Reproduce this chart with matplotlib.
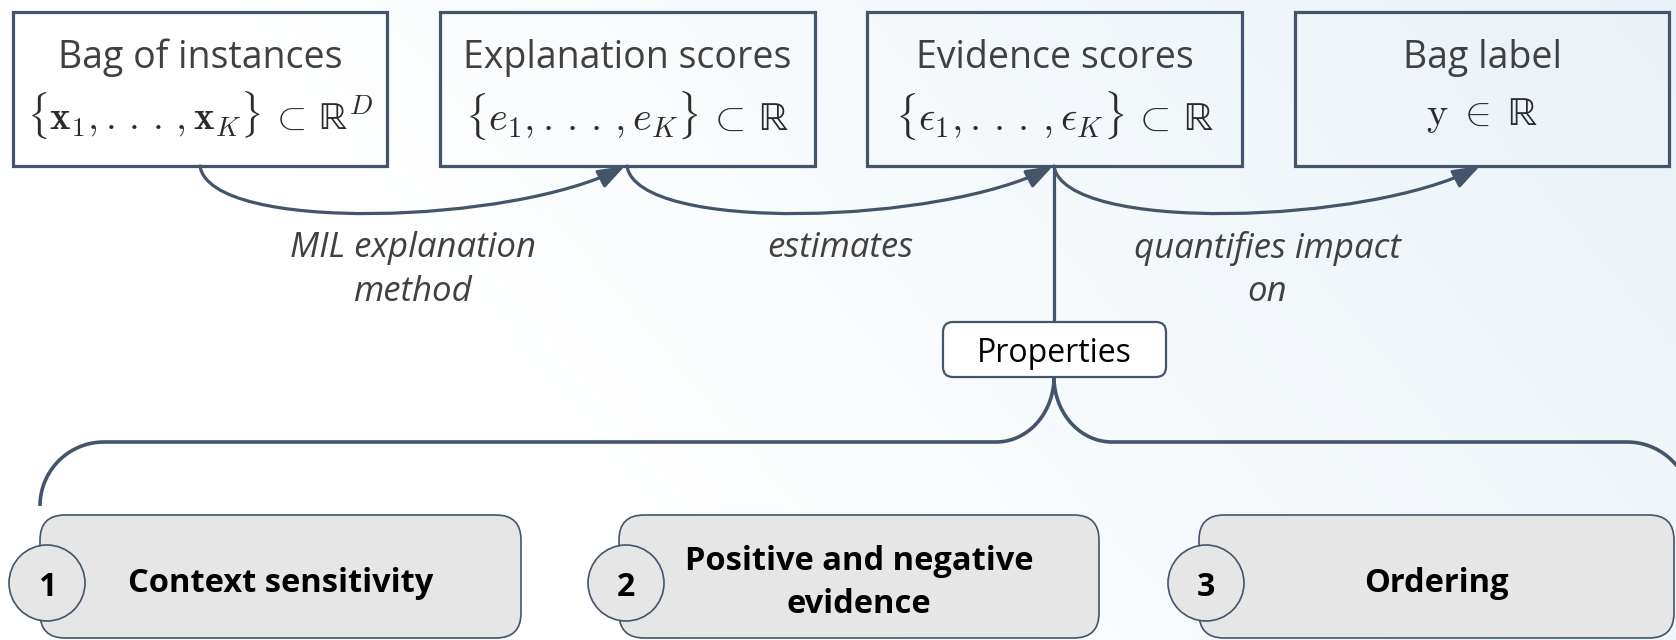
import numpy as np
import matplotlib.pyplot as plt
from matplotlib.patches import FancyBboxPatch, FancyArrowPatch, Circle, Rectangle, ArrowStyle
from matplotlib.path import Path

plt.rcParams['font.family'] = ['Open Sans', 'DejaVu Sans']
plt.rcParams['mathtext.fontset'] = 'cm'

W, H = 1676, 640
LINE = "#44546a"
GREY_TXT = "#404040"

# ---------- content ----------
top_titles = ["Bag of instances", "Explanation scores", "Evidence scores", "Bag label"]
top_math = [r"$\{\mathbf{x}_1,.\,.\,.\,,\mathbf{x}_K\}\,\subset\,\mathrm{ℝ}^D$",
            r"$\{e_1,.\,.\,.\,,e_K\}\,\subset\,\mathrm{ℝ}$",
            r"$\{\epsilon_1,.\,.\,.\,,\epsilon_K\}\,\subset\,\mathrm{ℝ}$",
            r"$\mathrm{y}\;\in\;\mathrm{ℝ}$"]
math_sizes = [28, 29, 29, 29]
arrow_labels = ["MIL explanation\nmethod", "estimates", "quantifies impact\non"]
hub_label = "Properties"
prop_nums = ["1", "2", "3"]
prop_items = ["Context sensitivity", "Positive and negative\nevidence", "Ordering"]

# ---------- layout (pixels, y down) ----------
top_left = [13, 440, 867, 1295]
top_right = [387, 815, 1242, 1669]
top_y0, top_y1 = 12, 166
arr_x0 = [200, 627, 1054]
arr_x1 = [625, 1053, 1480]
hub = (943, 322, 1166, 377)
hub_x = 1054
branch_y = 442
bot_left = [40, 619, 1199]
bot_right = [521, 1099, 1674]
bot_y0, bot_y1 = 515, 638
circ_y = 583

fig = plt.figure(figsize=(W / 100, H / 100), dpi=100)
ax = fig.add_axes([0, 0, 1, 1])
ax.set_xlim(0, W)
ax.set_ylim(H, 0)
ax.axis("off")

# soft background gradient, white at left to pale blue at right
gx, gy = np.meshgrid(np.linspace(0, 1, 400), np.linspace(0, 1, 160))
t = np.clip(gx * 1.1 + (1 - gy) * 0.35 - 0.45, 0, 1)
c0 = np.array([1.0, 1.0, 1.0])
c1 = np.array([234, 242, 248]) / 255
bg = c0 + (c1 - c0) * t[..., None]
ax.imshow(bg, extent=(0, W, H, 0), aspect="auto", zorder=0, interpolation="bilinear")

# top boxes
for i in range(4):
    x0, x1 = top_left[i], top_right[i]
    ax.add_patch(Rectangle((x0, top_y0), x1 - x0, top_y1 - top_y0, fill=False,
                           ec=LINE, lw=2.3, zorder=3))
    cx = (x0 + x1) / 2
    ax.text(cx, 68, top_titles[i], ha="center", va="baseline", fontsize=27,
            color=GREY_TXT, zorder=4)
    ax.text(cx, 115, top_math[i], ha="center", va="center", fontsize=math_sizes[i],
            color="#2b2b2b", zorder=4)

# curved arrows between the top boxes
head = ArrowStyle("-|>", head_length=0.45, head_width=0.16)
for i in range(3):
    a, b = arr_x0[i], arr_x1[i]
    verts = [(a, top_y1), (a + 10, 234), (b - 110, 224), (b, top_y1)]
    p = Path(verts, [Path.MOVETO, Path.CURVE4, Path.CURVE4, Path.CURVE4])
    ax.add_patch(FancyArrowPatch(path=p, arrowstyle=head, mutation_scale=36,
                                 color=LINE, lw=2.3, zorder=2))
    ny = arrow_labels[i].count("\n")
    ax.text((a + b) / 2, 248 + 22 * ny, arrow_labels[i], ha="center", va="center",
            fontsize=25, style="italic", color=GREY_TXT, linespacing=1.35, zorder=4)

# trunk from evidence box down to the hub
ax.plot([hub_x, hub_x], [top_y1, hub[1]], color=LINE, lw=2.3, zorder=2,
        solid_capstyle="butt")
ax.add_patch(FancyBboxPatch((hub[0], hub[1]), hub[2] - hub[0], hub[3] - hub[1],
                            boxstyle="round,pad=0,rounding_size=10",
                            fc="white", ec=LINE, lw=1.6, zorder=3))
ax.text((hub[0] + hub[2]) / 2, 362, hub_label, ha="center", va="baseline",
        fontsize=23, color="black", zorder=4)

# branches under the hub
th = np.linspace(0, np.pi / 2, 40)
rx, ry, R = 58, branch_y - hub[3], 64
lx = np.concatenate([hub_x - rx + rx * np.cos(th),
                     [bot_left[0] + R],
                     bot_left[0] + R - R * np.sin(th)])
ly = np.concatenate([hub[3] + ry * np.sin(th),
                     [branch_y],
                     branch_y + R - R * np.cos(th)])
ax.plot(lx, ly, color=LINE, lw=2.6, zorder=2, solid_capstyle="butt")
right_end = 1627
rxs = np.concatenate([hub_x + rx - rx * np.cos(th),
                      [right_end],
                      right_end + R * np.sin(th)])
ax.plot(rxs, ly, color=LINE, lw=2.6, zorder=2, solid_capstyle="butt")

# property boxes with numbered circles
for i in range(3):
    x0, x1 = bot_left[i], bot_right[i]
    ax.add_patch(FancyBboxPatch((x0, bot_y0), x1 - x0, bot_y1 - bot_y0,
                                boxstyle="round,pad=0,rounding_size=25",
                                fc="#e6e6e6", ec=LINE, lw=1.2, zorder=3))
    ax.add_patch(Circle((x0 + 7, circ_y), 38, fc="#e6e6e6", ec=LINE, lw=1.2, zorder=4))
    ax.text(x0 + 7, circ_y, prop_nums[i], ha="center", va="center_baseline",
            fontsize=23, fontweight="bold", color="black", zorder=5)
    ax.text((x0 + x1) / 2, circ_y, prop_items[i], ha="center", va="center",
            fontsize=23.5, fontweight="bold", color="black", linespacing=1.4, zorder=5)

fig.savefig("out.png", dpi=100)
